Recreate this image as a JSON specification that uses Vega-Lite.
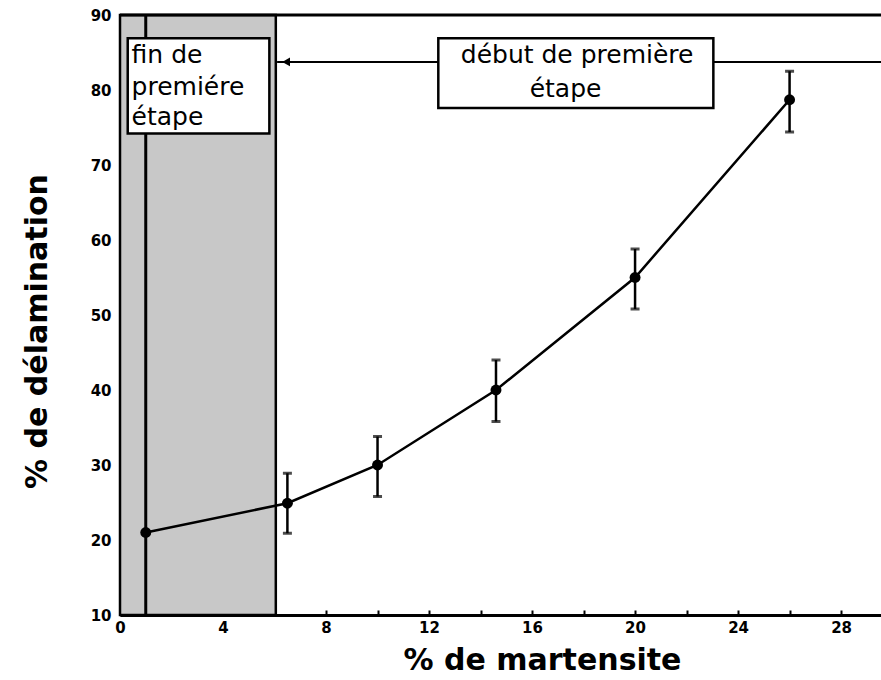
{
  "$schema": "https://vega.github.io/schema/vega-lite/v6.json",
  "width": 761,
  "height": 600,
  "autosize": "none",
  "padding": {"left": 120, "top": 15, "right": 0, "bottom": 65},
  "background": "white",
  "config": {
    "view": {"stroke": null},
    "font": "DejaVu Sans",
    "axis": {
      "grid": false,
      "labelFlush": false,
      "domainColor": "black",
      "domainWidth": 3,
      "tickColor": "black",
      "tickWidth": 2,
      "labelFont": "DejaVu Sans",
      "labelFontWeight": "bold",
      "labelFontSize": 15,
      "labelColor": "black",
      "titleFont": "DejaVu Sans",
      "titleFontWeight": "bold",
      "titleFontSize": 30,
      "titleColor": "black"
    }
  },
  "datasets": {
    "series": [
      {"x": 1, "y": 21},
      {"x": 6.5, "y": 24.9, "lo": 20.9, "hi": 28.9},
      {"x": 10, "y": 30, "lo": 25.8, "hi": 33.8},
      {"x": 14.6, "y": 40, "lo": 35.8, "hi": 44},
      {"x": 20, "y": 55, "lo": 50.8, "hi": 58.8},
      {"x": 26, "y": 78.7, "lo": 74.4, "hi": 82.5}
    ],
    "zone": [{"x": 0, "x2": 6.05, "y": 10, "y2": 90}],
    "boxes": [
      {"x": 0.3, "x2": 5.8, "y": 74.2, "y2": 86.9},
      {"x": 12.36, "x2": 23.04, "y": 77.6, "y2": 86.9}
    ],
    "leftLabels": [
      {"x": 0.45, "y": 83.6, "t": "fin de"},
      {"x": 0.45, "y": 79.4, "t": "premiére"},
      {"x": 0.45, "y": 75.3, "t": "étape"}
    ],
    "rightLabels": [
      {"x": 17.75, "y": 83.6, "t": "début de première"},
      {"x": 17.3, "y": 79.1, "t": "étape"}
    ]
  },
  "layer": [
    {
      "data": {"name": "zone"},
      "mark": {"type": "rect", "fill": "#c8c8c8", "stroke": "black", "strokeWidth": 2.5},
      "encoding": {
        "x": {"field": "x", "type": "quantitative", "scale": {"domain": [0, 29.55], "nice": false}, "axis": {"values": [0, 2, 4, 6, 8, 10, 12, 14, 16, 18, 20, 22, 24, 26, 28], "labelExpr": "datum.value % 4 === 0 ? datum.label : ''", "tickSize": -5, "labelPadding": 10, "title": "% de martensite", "titleX": 422, "titleY": 30, "titleBaseline": "top"}},
        "x2": {"field": "x2"},
        "y": {"field": "y", "type": "quantitative", "scale": {"domain": [10, 90], "nice": false}, "axis": {"values": [10, 15, 20, 25, 30, 35, 40, 45, 50, 55, 60, 65, 70, 75, 80, 85, 90], "labelExpr": "datum.value % 10 === 0 ? datum.label : ''", "tickSize": -5, "labelPadding": 14, "title": "% de délamination", "titleX": -68, "titleY": 316}},
        "y2": {"field": "y2"}
      }
    },
    {
      "data": {"values": [{"x": 1, "y": 10, "y2": 90}]},
      "mark": {"type": "rule", "color": "black", "strokeWidth": 3},
      "encoding": {
        "x": {"field": "x", "type": "quantitative"},
        "y": {"field": "y", "type": "quantitative"},
        "y2": {"field": "y2"}
      }
    },
    {
      "data": {"values": [{"x": 6.1, "x2": 29.55, "y": 83.75}]},
      "mark": {"type": "rule", "color": "black", "strokeWidth": 2},
      "encoding": {
        "x": {"field": "x", "type": "quantitative"},
        "x2": {"field": "x2"},
        "y": {"field": "y", "type": "quantitative"}
      }
    },
    {
      "data": {"values": [{"x": 6.45, "y": 83.75}]},
      "mark": {"type": "point", "shape": "triangle-left", "filled": true, "color": "black", "size": 80, "opacity": 1},
      "encoding": {
        "x": {"field": "x", "type": "quantitative"},
        "y": {"field": "y", "type": "quantitative"}
      }
    },
    {
      "data": {"values": [{"y": 90}]},
      "mark": {"type": "rule", "color": "black", "strokeWidth": 3},
      "encoding": {
        "y": {"field": "y", "type": "quantitative"}
      }
    },
    {
      "data": {"name": "boxes"},
      "mark": {"type": "rect", "fill": "white", "stroke": "black", "strokeWidth": 2.5},
      "encoding": {
        "x": {"field": "x", "type": "quantitative"},
        "x2": {"field": "x2"},
        "y": {"field": "y", "type": "quantitative"},
        "y2": {"field": "y2"}
      }
    },
    {
      "data": {"name": "leftLabels"},
      "mark": {"type": "text", "fontSize": 25, "color": "black", "baseline": "alphabetic", "align": "left", "font": "DejaVu Sans"},
      "encoding": {
        "x": {"field": "x", "type": "quantitative"},
        "y": {"field": "y", "type": "quantitative"},
        "text": {"field": "t"}
      }
    },
    {
      "data": {"name": "rightLabels"},
      "mark": {"type": "text", "fontSize": 25, "color": "black", "baseline": "alphabetic", "align": "center", "font": "DejaVu Sans"},
      "encoding": {
        "x": {"field": "x", "type": "quantitative"},
        "y": {"field": "y", "type": "quantitative"},
        "text": {"field": "t"}
      }
    },
    {
      "data": {"name": "series"},
      "mark": {"type": "line", "color": "black", "strokeWidth": 2.5, "interpolate": "linear"},
      "encoding": {
        "x": {"field": "x", "type": "quantitative"},
        "y": {"field": "y", "type": "quantitative"}
      }
    },
    {
      "data": {"name": "series"},
      "transform": [{"filter": "isValid(datum.lo)"}],
      "mark": {"type": "rule", "color": "black", "strokeWidth": 2.5},
      "encoding": {
        "x": {"field": "x", "type": "quantitative"},
        "y": {"field": "lo", "type": "quantitative"},
        "y2": {"field": "hi"}
      }
    },
    {
      "data": {"name": "series"},
      "transform": [{"filter": "isValid(datum.lo)"}, {"fold": ["lo", "hi"], "as": ["k", "v"]}],
      "mark": {"type": "tick", "color": "black", "orient": "horizontal", "size": 9, "thickness": 3},
      "encoding": {
        "x": {"field": "x", "type": "quantitative"},
        "y": {"field": "v", "type": "quantitative"}
      }
    },
    {
      "data": {"name": "series"},
      "mark": {"type": "circle", "color": "black", "size": 120, "opacity": 1},
      "encoding": {
        "x": {"field": "x", "type": "quantitative"},
        "y": {"field": "y", "type": "quantitative"}
      }
    }
  ]
}
